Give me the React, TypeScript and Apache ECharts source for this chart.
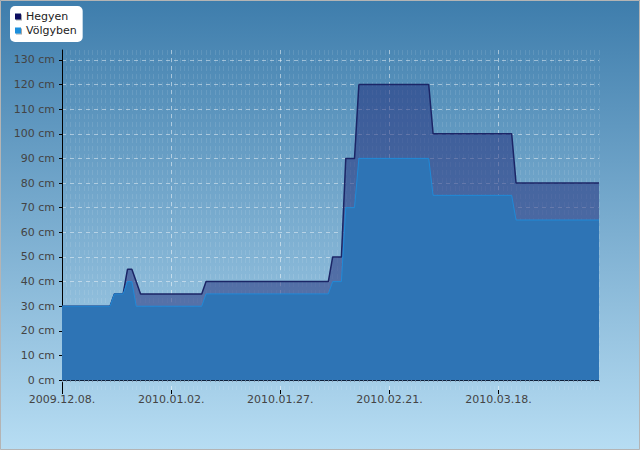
import React, { useEffect, useRef } from "react";
import * as echarts from "echarts";

const seriesNames = ["Hegyen", "Völgyben"];
const legendColors = ["#0d0f5e", "#1a8fdc"];
// x positions are day indexes counted from 2009.12.08.
const xTickDays = [0, 25, 50, 75, 100];
const xTickLabels = ["2009.12.08.", "2010.01.02.", "2010.01.27.", "2010.02.21.", "2010.03.18."];
const lastDay = 123;
const yTickValues = [0, 10, 20, 30, 40, 50, 60, 70, 80, 90, 100, 110, 120, 130];

// [day, cm] breakpoints
const hegyen: [number, number][] = [
  [0, 30], [11, 30], [12, 35], [14, 35], [15, 45], [16, 45], [18, 35], [32, 35], [33, 40],
  [61, 40], [62, 50], [64, 50], [65, 90], [67, 90], [68, 120], [84, 120], [85, 100],
  [103, 100], [104, 80], [123, 80],
];
const volgyben: [number, number][] = [
  [0, 30], [11, 30], [12, 35], [14, 35], [15, 40], [16, 40], [17, 30], [32, 30], [33, 35],
  [61, 35], [62, 40], [64, 40], [65, 70], [67, 70], [68, 90], [84, 90], [85, 75],
  [103, 75], [104, 65], [123, 65],
];

export default function App() {
  const ref = useRef<HTMLDivElement>(null);
  useEffect(() => {
    document.body.style.margin = "0";
    const chart = echarts.init(ref.current!, null, { renderer: "svg" });
    const font = "DejaVu Sans";
    chart.setOption({
      animation: false,
      backgroundColor: new echarts.graphic.LinearGradient(0, 0, 0, 1, [
        { offset: 0, color: "#3e7dac" },
        { offset: 1, color: "#b7ddf3" },
      ]),
      textStyle: { fontFamily: font },
      grid: { left: 62, right: 41, top: 50, bottom: 60, containLabel: false },
      legend: {
        orient: "vertical",
        left: 10,
        top: 6,
        backgroundColor: "#ffffff",
        borderRadius: 5,
        padding: [4, 6, 5, 5],
        itemWidth: 6,
        itemHeight: 6,
        itemGap: 1,
        icon: "rect",
        textStyle: { color: "#222", fontSize: 11, lineHeight: 13, height: 13, fontFamily: font },
        data: seriesNames.map((n, i) => ({
          name: n,
          itemStyle: {
            color: legendColors[i],
            shadowColor: "rgba(0,0,0,0.35)",
            shadowOffsetX: 1,
            shadowOffsetY: 1,
            shadowBlur: 1,
          },
        })),
      },
      xAxis: [
        {
          type: "value",
          position: "bottom",
          min: 0,
          max: lastDay,
          interval: 1,
          axisLine: { show: true, lineStyle: { color: "#000", width: 1 } },
          axisTick: { show: true, length: 2, lineStyle: { color: "#8a9db0" } },
          axisLabel: { show: false },
          splitLine: { show: true, lineStyle: { color: "rgba(255,255,255,0.1)", type: [5, 3] } },
        },
        {
          type: "value",
          position: "bottom",
          min: 0,
          max: lastDay,
          axisLine: { show: false },
          axisTick: { show: true, customValues: xTickDays, length: 4, lineStyle: { color: "#000" } },
          axisLabel: {
            customValues: xTickDays,
            formatter: (v: number) => {
              const i = xTickDays.indexOf(v);
              return i >= 0 ? xTickLabels[i] : "";
            },
            color: "#444",
            fontSize: 11,
            fontFamily: font,
            margin: 4,
          },
          splitLine: { show: true, lineStyle: { color: "rgba(255,255,255,0.45)", type: [4, 4] } },
        },
      ],
      yAxis: {
        type: "value",
        min: -4,
        max: 134,
        axisLine: { show: true, lineStyle: { color: "#000", width: 1 } },
        axisTick: { show: true, customValues: yTickValues, length: 3, lineStyle: { color: "#000" } },
        axisLabel: {
          customValues: yTickValues,
          formatter: (v: number) => `${v} cm`,
          color: "#444",
          fontSize: 11,
          fontFamily: font,
          margin: 7,
        },
        splitLine: { show: true, lineStyle: { color: "rgba(255,255,255,0.45)", type: [4, 4] } },
      },
      graphic: [
        {
          type: "rect",
          silent: true,
          z: 100,
          shape: { x: 0.5, y: 0.5, width: 639, height: 449 },
          style: { fill: "none", stroke: "#b4b4b4", lineWidth: 1 },
        },
      ],
      series: [
        {
          name: seriesNames[0],
          type: "line",
          xAxisIndex: 0,
          data: hegyen,
          symbol: "none",
          showSymbol: false,
          lineStyle: { color: "#1b2566", width: 1.5 },
          itemStyle: { color: legendColors[0] },
          areaStyle: { color: "rgba(32,44,122,0.75)" },
          z: 2,
        },
        {
          name: seriesNames[1],
          type: "line",
          xAxisIndex: 0,
          data: volgyben,
          symbol: "none",
          showSymbol: false,
          lineStyle: { color: "#1f8ad8", width: 1 },
          itemStyle: { color: legendColors[1] },
          areaStyle: { color: "#2e74b5", opacity: 1 },
          z: 3,
        },
      ],
    });
    return () => chart.dispose();
  }, []);
  return <div ref={ref} style={{ width: 640, height: 450 }} />;
}
